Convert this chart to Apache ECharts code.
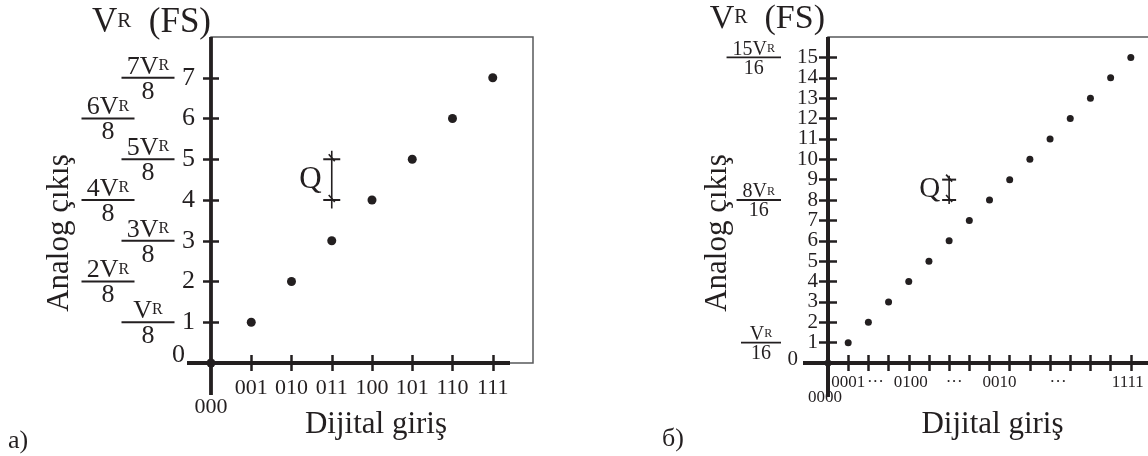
<!DOCTYPE html>
<html>
<head>
<meta charset="utf-8">
<script src="https://cdn.jsdelivr.net/npm/echarts@6/dist/echarts.min.js"></script>
<style>
  html, body { margin: 0; padding: 0; background: #fff; }
  #chart { width: 1148px; height: 456px; }
</style>
</head>
<body>
<div id="chart"></div>
<script>
const INK = '#231f20';
const FONT = "'Liberation Serif', 'Times New Roman', serif";

// a) 3-bit converter
const codes3 = ['000', '001', '010', '011', '100', '101', '110', '111'];
const inputs3 = [0, 1, 2, 3, 4, 5, 6, 7];
const outputs3 = [0, 1, 2, 3, 4, 5, 6, 7];
const ticks3 = [1, 2, 3, 4, 5, 6, 7];
const fracLevels3 = [1, 2, 3, 4, 5, 6, 7];
const fracCoef3 = ['', '2', '3', '4', '5', '6', '7'];
const fracDen3 = '8';
const qStep3 = [3, 4, 5];          // input code, lower level, upper level

// б) 4-bit converter
const inputs4 = [0, 1, 2, 3, 4, 5, 6, 7, 8, 9, 10, 11, 12, 13, 14, 15];
const outputs4 = [0, 1, 2, 3, 4, 5, 6, 7, 8, 9, 10, 11, 12, 13, 14, 15];
const ticks4 = [1, 2, 3, 4, 5, 6, 7, 8, 9, 10, 11, 12, 13, 14, 15];
const levels4 = [0, 1, 2, 3, 4, 5, 6, 7, 8, 9, 10, 11, 12, 13, 14, 15];
const codeTicks4 = [0, 1, 2, 4, 6, 8, 11, 15];
const codeText4 = ['0000', '0001', '···', '0100', '···', '0010', '···', '1111'];
const fracLevels4 = [1, 8, 15];
const fracCoef4 = ['', '8', '15'];
const fracDen4 = '16';
const qStep4 = [6, 8, 9];

// the level numbers sit very close together, so odd and even ones are
// carried by the two overlaid y axes of the second panel
const oddLevels4 = levels4.filter(v => v % 2 === 1);
const evenLevels4 = levels4.filter(v => v % 2 === 0);

const measureCtx = document.createElement('canvas').getContext('2d');
function textWidth(str, size) {
  measureCtx.font = size + 'px ' + FONT;
  return measureCtx.measureText(str).width;
}

// thick axis cross: lines run past the origin, as in textbook drawings
function axisCross(ext) {
  return function (params, api) {
    const o = api.coord([0, 0]);
    const cs = params.coordSys;
    const st = { stroke: INK, lineWidth: ext.w, lineCap: 'butt' };
    return {
      type: 'group',
      children: [
        { type: 'line', shape: { x1: o[0], y1: o[1] + ext.down, x2: o[0], y2: cs.y }, style: st },
        { type: 'line', shape: { x1: o[0] - ext.left, y1: o[1], x2: cs.x + cs.width - ext.trim, y2: o[1] }, style: st }
      ]
    };
  };
}

// fraction "kV_R / n" drawn beside a level of the output axis
function fractionItem(coefs, den, cfg) {
  return function (params, api) {
    const level = api.value(1);
    const p = api.coord([0, level]);
    const i = params.dataIndex;
    const numW = textWidth(coefs[i] + 'V', cfg.size) + textWidth('R', cfg.rSize);
    const w = cfg.fixedWidth || Math.max(40, numW + 12);
    const cx = cfg.fixedWidth ? p[0] - (level % 2 ? cfg.oddOffset : cfg.evenOffset)
                              : p[0] - cfg.rightGap - w / 2;
    return {
      type: 'group',
      children: [
        {
          type: 'text', x: cx, y: p[1] + cfg.numDy,
          style: {
            text: '{v|' + coefs[i] + 'V}{r|R}',
            rich: {
              v: { fontSize: cfg.size, fontFamily: FONT, fill: INK },
              r: { fontSize: cfg.rSize, fontFamily: FONT, fill: INK, padding: [0, 0, cfg.rLift, 0] }
            },
            fill: INK, fontSize: cfg.size, fontFamily: FONT,
            align: 'center', verticalAlign: 'bottom'
          }
        },
        { type: 'line', shape: { x1: cx - w / 2, y1: p[1], x2: cx + w / 2, y2: p[1] },
          style: { stroke: INK, lineWidth: 1.8 } },
        {
          type: 'text', x: cx, y: p[1] + cfg.denDy,
          style: { text: den, fill: INK, fontSize: cfg.size, fontFamily: FONT,
                   align: 'center', verticalAlign: 'top' }
        }
      ]
    };
  };
}

// dimension bracket marking one quantisation step Q
function qBracket(cfg) {
  return function (params, api) {
    const lo = api.coord([api.value(0), api.value(1)]);
    const hi = api.coord([api.value(0), api.value(2)]);
    const x = lo[0];
    const thin = { stroke: INK, lineWidth: 1.6 };
    const bar = { stroke: INK, lineWidth: 2 };
    return {
      type: 'group',
      children: [
        { type: 'line', shape: { x1: x, y1: hi[1] - cfg.over, x2: x, y2: lo[1] + cfg.over }, style: thin },
        { type: 'line', shape: { x1: x - cfg.bar, y1: hi[1], x2: x + cfg.bar, y2: hi[1] }, style: bar },
        { type: 'line', shape: { x1: x - cfg.bar, y1: lo[1], x2: x + cfg.bar, y2: lo[1] }, style: bar },
        { type: 'line', shape: { x1: x - 3, y1: hi[1] - 5, x2: x + 3, y2: hi[1] + 2 }, style: thin },
        { type: 'line', shape: { x1: x - 3, y1: lo[1] - 5, x2: x + 3, y2: lo[1] + 2 }, style: thin },
        {
          type: 'text', x: x - cfg.qGap, y: (lo[1] + hi[1]) / 2,
          style: { text: 'Q', fill: INK, fontSize: cfg.qSize, fontFamily: FONT,
                   align: 'right', verticalAlign: 'middle' }
        }
      ]
    };
  };
}

const tickStyle = { color: INK, width: 2.5 };
const titleRich = (size) => ({
  v: { fontSize: size, fontFamily: FONT, color: INK },
  r: { fontSize: Math.round(size * 0.6), fontFamily: FONT, color: INK, padding: [0, 0, 2, 0] }
});
const labelFlags = { hideOverlap: false, showMinLabel: true, showMaxLabel: true };

const rich4 = {};
const nudges4 = { 2: [0, 0, 0, 14], 4: [0, 0, 0, 4], 6: [0, 0, 0, 10],
                  8: [0, 0, 0, 20], 11: [0, 0, 0, 16], 15: [0, 6, 0, 0] };
codeTicks4.forEach(v => {
  rich4['n' + v] = { fontSize: 17, fontFamily: FONT, color: INK, padding: nudges4[v] || [0, 0, 0, 0] };
});

const option = {
  backgroundColor: '#fff',
  animation: false,
  textStyle: { fontFamily: FONT, color: INK },
  grid: [
    { left: 211, top: 37, width: 322, height: 326, show: true, borderColor: '#58595b',
      borderWidth: 1.5, backgroundColor: 'transparent', outerBoundsMode: 'none', containLabel: false },
    { left: 828, top: 37, width: 323, height: 326, show: true, borderColor: '#58595b',
      borderWidth: 1.5, backgroundColor: 'transparent', outerBoundsMode: 'none', containLabel: false }
  ],
  xAxis: [
    {
      type: 'value', gridIndex: 0, min: 0, max: 8, interval: 1, position: 'bottom',
      axisLine: { show: false }, splitLine: { show: false },
      axisTick: { show: true, customValues: ticks3, length: 8, inside: false, lineStyle: tickStyle },
      axisLabel: Object.assign({
        show: true, customValues: ticks3, margin: 14, color: INK, fontFamily: FONT, fontSize: 22,
        formatter: v => codes3[inputs3.indexOf(v)]
      }, labelFlags),
      name: 'Dijital giriş', nameLocation: 'middle', nameGap: 46, nameMoveOverlap: false,
      nameTextStyle: { fontSize: 31, fontFamily: FONT, color: INK, padding: [0, 0, 0, 8] }
    },
    {
      // inner half of the ticks, plus the code under the origin
      type: 'value', gridIndex: 0, min: 0, max: 8, interval: 1, position: 'bottom',
      axisLine: { show: false }, splitLine: { show: false },
      axisTick: { show: true, customValues: ticks3, length: 8, inside: true, lineStyle: tickStyle },
      axisLabel: Object.assign({
        show: true, customValues: [inputs3[0]], margin: 33, color: INK, fontFamily: FONT, fontSize: 22,
        formatter: () => codes3[0]
      }, labelFlags)
    },
    {
      type: 'value', gridIndex: 1, min: 0, max: 16, interval: 1, position: 'bottom',
      axisLine: { show: false }, splitLine: { show: false },
      axisTick: { show: true, customValues: ticks4, length: 8, inside: false, lineStyle: tickStyle },
      axisLabel: Object.assign({
        show: true, customValues: codeTicks4.slice(1), margin: 11, color: INK, fontFamily: FONT, fontSize: 17,
        formatter: v => '{n' + v + '|' + codeText4[codeTicks4.indexOf(v)] + '}',
        rich: rich4
      }, labelFlags),
      name: 'Dijital giriş', nameLocation: 'middle', nameGap: 46, nameMoveOverlap: false,
      nameTextStyle: { fontSize: 31, fontFamily: FONT, color: INK, padding: [0, 0, 0, 6] }
    },
    {
      type: 'value', gridIndex: 1, min: 0, max: 16, interval: 1, position: 'bottom',
      axisLine: { show: false }, splitLine: { show: false },
      axisTick: { show: true, customValues: ticks4, length: 8, inside: true, lineStyle: tickStyle },
      axisLabel: Object.assign({
        show: true, customValues: [codeTicks4[0]], margin: 26, color: INK, fontFamily: FONT, fontSize: 17,
        formatter: () => '{z|' + codeText4[0] + '}',
        rich: { z: { padding: [0, 6, 0, 0], fontSize: 17, fontFamily: FONT, color: INK } }
      }, labelFlags)
    }
  ],
  yAxis: [
    {
      type: 'value', gridIndex: 0, min: 0, max: 8, interval: 1, position: 'left',
      axisLine: { show: false }, splitLine: { show: false },
      axisTick: { show: true, customValues: ticks3, length: 8, inside: false, lineStyle: tickStyle },
      axisLabel: Object.assign({
        show: true, customValues: outputs3, margin: 16, color: INK, fontFamily: FONT, fontSize: 26,
        formatter: v => v === 0 ? '{z|0}' : String(v),
        rich: { z: { padding: [0, 10, 16, 0], fontSize: 26, fontFamily: FONT, color: INK } }
      }, labelFlags),
      name: '{v|V}{r|R}  (FS)', nameLocation: 'end', nameGap: -3, nameMoveOverlap: false,
      nameTextStyle: { fontSize: 35, fontFamily: FONT, color: INK, align: 'right',
                       verticalAlign: 'bottom', rich: titleRich(35) }
    },
    {
      type: 'value', gridIndex: 0, min: 0, max: 8, interval: 1, position: 'left',
      axisLine: { show: false }, splitLine: { show: false }, axisLabel: { show: false },
      axisTick: { show: true, customValues: ticks3, length: 8, inside: true, lineStyle: tickStyle },
      name: 'Analog çıkış', nameLocation: 'middle', nameRotate: 90, nameGap: 136, nameMoveOverlap: false,
      nameTextStyle: { fontSize: 31, fontFamily: FONT, color: INK, padding: [0, 66, 0, 0] }
    },
    {
      type: 'value', gridIndex: 1, min: 0, max: 16, interval: 1, position: 'left',
      axisLine: { show: false }, splitLine: { show: false },
      axisTick: { show: true, customValues: ticks4, length: 9, inside: false, lineStyle: tickStyle },
      axisLabel: Object.assign({
        show: true, customValues: oddLevels4, margin: 10, color: INK, fontFamily: FONT, fontSize: 21,
        formatter: v => String(v)
      }, labelFlags),
      name: '{v|V}{r|R}  (FS)', nameLocation: 'end', nameGap: 1, nameMoveOverlap: false,
      nameTextStyle: { fontSize: 34, fontFamily: FONT, color: INK, align: 'right',
                       verticalAlign: 'bottom', padding: [0, 3, 0, 0], rich: titleRich(34) }
    },
    {
      // inner half of the ticks, plus the even level numbers
      type: 'value', gridIndex: 1, min: 0, max: 16, interval: 1, position: 'left',
      axisLine: { show: false }, splitLine: { show: false },
      axisTick: { show: true, customValues: ticks4, length: 9, inside: true, lineStyle: tickStyle },
      axisLabel: Object.assign({
        show: true, customValues: evenLevels4, margin: 10, color: INK, fontFamily: FONT, fontSize: 21,
        formatter: v => v === 0 ? '{z|0}' : String(v),
        rich: { z: { padding: [0, 20, 8, 0], fontSize: 21, fontFamily: FONT, color: INK } }
      }, labelFlags),
      name: 'Analog çıkış', nameLocation: 'middle', nameRotate: 90, nameGap: 95, nameMoveOverlap: false,
      nameTextStyle: { fontSize: 31, fontFamily: FONT, color: INK, padding: [0, 66, 0, 0] }
    }
  ],
  graphic: [
    { type: 'text', left: 8, top: 428, style: { text: 'a)', fontSize: 26, fontFamily: FONT, fill: INK } },
    { type: 'text', left: 662, top: 426, style: { text: 'б)', fontSize: 26, fontFamily: FONT, fill: INK } }
  ],
  series: [
    {
      type: 'custom', name: 'axes-a', coordinateSystem: 'cartesian2d', xAxisIndex: 0, yAxisIndex: 0,
      silent: true, z: 3, data: [[0, 0]],
      renderItem: axisCross({ left: 24, down: 32, trim: 23, w: 3.8 })
    },
    {
      type: 'scatter', name: 'a', xAxisIndex: 0, yAxisIndex: 0, symbol: 'circle', symbolSize: 9,
      itemStyle: { color: INK, opacity: 1 }, z: 5,
      data: inputs3.map((x, i) => [x, outputs3[i]])
    },
    {
      type: 'custom', name: 'frac-a', coordinateSystem: 'cartesian2d', xAxisIndex: 0, yAxisIndex: 0,
      silent: true, z: 4, encode: { x: 0, y: 1 },
      data: fracLevels3.map(l => [0, l]),
      renderItem: fractionItem(fracCoef3, fracDen3, {
        size: 26, rSize: 16, rLift: 2, fixedWidth: 53, oddOffset: 63, evenOffset: 103,
        numDy: 2, denDy: 1
      })
    },
    {
      type: 'custom', name: 'q-a', coordinateSystem: 'cartesian2d', xAxisIndex: 0, yAxisIndex: 0,
      silent: true, z: 4, encode: { x: 0, y: [1, 2] }, data: [qStep3],
      renderItem: qBracket({ over: 8.5, bar: 8.5, qGap: 10, qSize: 31 })
    },
    {
      type: 'custom', name: 'axes-b', coordinateSystem: 'cartesian2d', xAxisIndex: 2, yAxisIndex: 2,
      silent: true, z: 3, data: [[0, 0]],
      renderItem: axisCross({ left: 25, down: 34, trim: -10, w: 4 })
    },
    {
      type: 'scatter', name: 'b', xAxisIndex: 2, yAxisIndex: 2, symbol: 'circle', symbolSize: 7,
      itemStyle: { color: INK, opacity: 1 }, z: 5,
      data: inputs4.map((x, i) => [x, outputs4[i]])
    },
    {
      type: 'custom', name: 'frac-b', coordinateSystem: 'cartesian2d', xAxisIndex: 2, yAxisIndex: 2,
      silent: true, z: 4, encode: { x: 0, y: 1 },
      data: fracLevels4.map(l => [0, l]),
      renderItem: fractionItem(fracCoef4, fracDen4, {
        size: 20, rSize: 12, rLift: 1, rightGap: 47, numDy: 2, denDy: 1
      })
    },
    {
      type: 'custom', name: 'q-b', coordinateSystem: 'cartesian2d', xAxisIndex: 2, yAxisIndex: 2,
      silent: true, z: 4, encode: { x: 0, y: [1, 2] }, data: [qStep4],
      renderItem: qBracket({ over: 4, bar: 7, qGap: 9, qSize: 29 })
    }
  ]
};

const chart = echarts.init(document.getElementById('chart'), null, { renderer: 'canvas' });
chart.setOption(option);
</script>
</body>
</html>
